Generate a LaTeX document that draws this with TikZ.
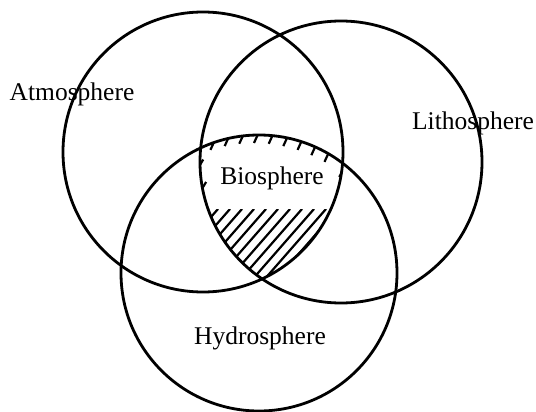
\documentclass[tikz,border=0pt]{standalone}
\usepackage{fontspec}
\setmainfont{Liberation Serif}
\usetikzlibrary{calc}
\tikzset{
  sphere/.style={draw, line width=2.8pt},
  spherelabel/.style={font=\fontsize{25.5}{30}\selectfont, anchor=base, inner sep=0pt},
  hatch/.style={line width=2.2pt},
}

\begin{document}
\begin{tikzpicture}[x=1pt, y=-1pt]
  \useasboundingbox (0,0) rectangle (536,412);
  % Centres of the spheres
  \coordinate (catmo) at (203,152);
  \coordinate (clitho) at (341,162);
  \coordinate (chydro) at (259,273);

  % Hatching of the common part
  \begin{scope}
    \clip (catmo) circle (140);
    \clip (clitho) circle (141);
    \clip (chydro) circle (138);
    \begin{scope}
      \clip (150,209) rectangle (400,300);
      \foreach \i in {0,...,10}
        \draw[hatch] (218+\i*12,209) -- ++(-70,80);
    \end{scope}
    \foreach \a in {-114,-108,...,-58}
      \draw[hatch] ($(chydro)+(\a:141)$) -- ++(-5,11);
    \foreach \a in {6,12,18}
      \draw[hatch] ($(catmo)+(\a:143)$) -- ++(-6,10);
    \foreach \a in {177,168}
      \draw[hatch] ($(clitho)+(\a:144)$) -- ++(6,-10);
  \end{scope}

  % Labels
  \node[spherelabel] (atmo) at (72,100) {Atmosphere};
  \node[spherelabel] (litho) at (473,129) {Lithosphere};
  \node[spherelabel] (bio) at (272,184) {Biosphere};
  \node[spherelabel] (hydro) at (260,344) {Hydrosphere};

  % Spheres
  \draw[sphere] (catmo) circle (140);
  \draw[sphere] (clitho) circle (141);
  \draw[sphere] (chydro) circle (138);
\end{tikzpicture}
\end{document}
